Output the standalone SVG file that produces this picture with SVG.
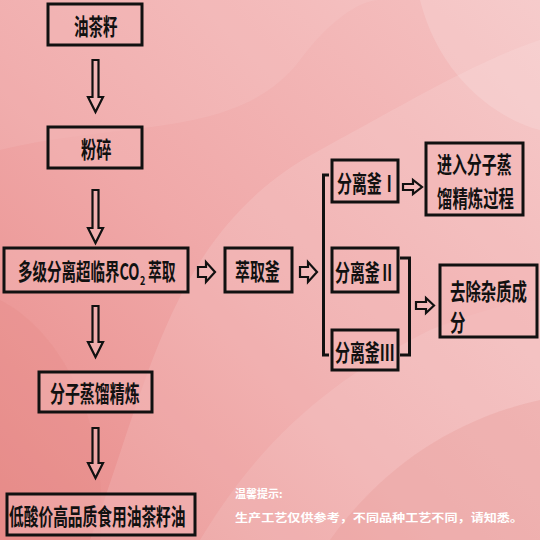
<svg xmlns="http://www.w3.org/2000/svg" width="540" height="540" viewBox="0 0 540 540">
<defs>
<linearGradient id="bg" x1="0" y1="1" x2="1" y2="0">
<stop offset="0" stop-color="#e88b89"/>
<stop offset="0.45" stop-color="#f0a8a8"/>
<stop offset="1" stop-color="#f5c2c2"/>
</linearGradient>
<style>
.box{fill:#f3b4b4;fill-opacity:0.55;stroke:#111;stroke-width:3}
.t{font-family:"Noto Sans CJK SC","Noto Sans CJK JP",sans-serif;font-weight:bold;font-size:23px;fill:#111}
.arr{fill:#f4bcbc;fill-opacity:0.5;stroke:#111;stroke-width:2.2;stroke-linejoin:miter}
.br{fill:none;stroke:#111;stroke-width:3}
.note{font-family:"Noto Sans CJK SC",sans-serif;font-size:11px;fill:#fff;font-weight:bold}
</style>
</defs>
<rect width="540" height="540" fill="url(#bg)"/>
<path d="M90,540 C150,380 170,230 320,150 C420,95 480,60 540,40 L540,540 Z" fill="#fff" fill-opacity="0.12"/>
<path d="M0,150 C120,120 240,140 300,60 C330,20 360,0 380,0 L0,0 Z" fill="#fff" fill-opacity="0.08"/>
<path d="M200,540 C260,440 330,380 430,330 C480,310 520,300 540,300 L540,540 Z" fill="#fff" fill-opacity="0.1"/>
<path d="M330,540 C380,470 450,420 540,400 L540,540 Z" fill="#e99a98" fill-opacity="0.35"/>
<path d="M420,0 C440,80 500,120 540,130 L540,0 Z" fill="#fff" fill-opacity="0.15"/>
<path d="M0,300 C60,330 110,420 100,540 L0,540 Z" fill="#e38684" fill-opacity="0.25"/>

<g id="connectors">
<path class="arr" d="M92.5,60 H98.5 V97 H103 L95.5,112 L88,97 H92.5 Z"/>
<path class="arr" d="M92.5,190 H98.5 V228 H103 L95.5,243 L88,228 H92.5 Z"/>
<path class="arr" d="M92.5,306 H98.5 V342 H103 L95.5,357 L88,342 H92.5 Z"/>
<path class="arr" d="M92.5,428 H98.5 V463 H103 L95.5,478 L88,463 H92.5 Z"/>
<path class="arr" d="M198,267 H206 V262 L215,272 L206,282 V277 H198 Z"/>
<path class="arr" d="M300,267 H308 V262 L317,272 L308,282 V277 H300 Z"/>
<path class="br" d="M329,175 H323.5 V355 H329"/>
<path class="arr" d="M403,184 H413 V180 L422,187 L413,194 V190 H403 Z"/>
<path class="br" d="M400,258 H409.5 V355 H400"/>
<path class="arr" d="M416,302 H426 V298 L434,305.5 L426,313 V309 H416 Z"/>
</g>

<g id="n1"><rect class="box" x="48" y="4" width="94" height="41"/><text class="t" transform="translate(74,35) scale(0.63,1)">油茶籽</text></g>
<g id="n2"><rect class="box" x="48" y="127" width="94" height="41"/><text class="t" transform="translate(81,158) scale(0.66,1)">粉碎</text></g>
<g id="n3"><rect class="box" x="4" y="248" width="184" height="44"/>
<text class="t" transform="translate(18,280) scale(0.63,1)">多级分离超临界CO</text>
<text class="t" style="font-size:12px" transform="translate(140,285) scale(0.75,1)">2</text>
<text class="t" transform="translate(148,280) scale(0.6,1)">萃取</text></g>
<g id="n4"><rect class="box" x="39" y="372" width="113" height="40"/><text class="t" transform="translate(50,402) scale(0.65,1)">分子蒸馏精炼</text></g>
<g id="n5"><rect class="box" x="7" y="494" width="188" height="41"/><text class="t" transform="translate(9,525) scale(0.64,1)">低酸价高品质食用油茶籽油</text></g>
<g id="n6"><rect class="box" x="225" y="248" width="67" height="44"/><text class="t" transform="translate(235,280) scale(0.65,1)">萃取釜</text></g>
<g id="n7"><rect class="box" x="332" y="160" width="66" height="42"/><text class="t" transform="translate(337,192) scale(0.65,1)">分离釜Ⅰ</text></g>
<g id="n8"><rect class="box" x="332" y="248" width="66" height="44"/><text class="t" transform="translate(335,281) scale(0.65,1)">分离釜Ⅱ</text></g>
<g id="n9"><rect class="box" x="332" y="330" width="66" height="40"/><text class="t" transform="translate(335,361) scale(0.65,1)">分离釜Ⅲ</text></g>
<g id="n10"><rect class="box" x="426" y="143" width="97" height="72"/><text class="t" transform="translate(437,173) scale(0.65,1)">进入分子蒸</text><text class="t" transform="translate(437,207) scale(0.67,1)">馏精炼过程</text></g>
<g id="n11"><rect class="box" x="440" y="265" width="97" height="72"/><text class="t" transform="translate(450,300) scale(0.67,1)">去除杂质成</text><text class="t" transform="translate(450,331) scale(0.67,1)">分</text></g>

<text class="note" x="235" y="498">温馨提示:</text>
<text class="note" x="235" y="522" textLength="288" lengthAdjust="spacingAndGlyphs">生产工艺仅供参考，不同品种工艺不同，请知悉。</text>
</svg>
